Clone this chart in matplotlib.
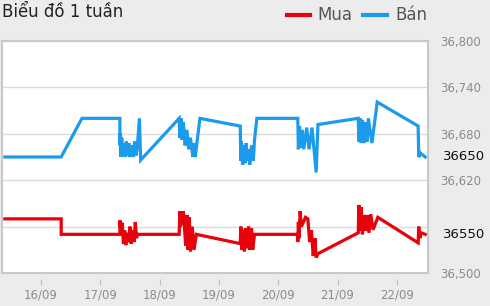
import matplotlib
matplotlib.use("Agg")
import matplotlib.pyplot as plt
from matplotlib.lines import Line2D
from matplotlib.patches import Rectangle

# time in days of September (fractional), prices in VND
ban_t = [15.39, 16.34, 16.69, 17.33, 17.33, 17.34, 17.35, 17.36, 17.38, 17.40, 17.42, 17.44,
         17.46, 17.48, 17.50, 17.52, 17.55, 17.58, 17.60, 17.62, 17.66, 17.68,
         18.33, 18.34, 18.36, 18.38, 18.40, 18.43, 18.46, 18.49, 18.52, 18.56, 18.58, 18.60, 18.68,
         19.36, 19.37, 19.38, 19.40, 19.42, 19.44, 19.46, 19.48, 19.50, 19.52, 19.55, 19.58, 19.60, 19.64,
         20.33, 20.34, 20.36, 20.38, 20.40, 20.43, 20.48, 20.52, 20.57, 20.64, 20.67,
         21.35, 21.36, 21.38, 21.40, 21.42, 21.45, 21.48, 21.50, 21.52, 21.58, 21.67,
         22.36, 22.37, 22.40, 22.48]
ban_v = [36650, 36650, 36700, 36700, 36665, 36681, 36650, 36675, 36652, 36668, 36650, 36670,
         36652, 36668, 36650, 36665, 36650, 36670, 36652, 36660, 36700, 36646,
         36700, 36675, 36700, 36672, 36695, 36665, 36685, 36660, 36675, 36650, 36668, 36650, 36700,
         36690, 36645, 36670, 36640, 36665, 36642, 36668, 36645, 36660, 36640, 36665, 36645, 36672, 36700,
         36700, 36660, 36690, 36662, 36685, 36660, 36688, 36660, 36688, 36630, 36692,
         36700, 36670, 36700, 36668, 36698, 36668, 36695, 36670, 36700, 36668, 36721,
         36690, 36650, 36655, 36650]

mua_t = [15.39, 16.34, 16.34, 17.33, 17.33, 17.35, 17.37, 17.39, 17.41, 17.43, 17.45, 17.48,
         17.50, 17.52, 17.55, 17.57, 17.59, 17.61, 17.63,
         18.33, 18.34, 18.35, 18.36, 18.38, 18.40, 18.44, 18.46, 18.48, 18.50, 18.52, 18.55, 18.58, 18.62,
         19.36, 19.37, 19.39, 19.41, 19.43, 19.45, 19.47, 19.50, 19.52, 19.55, 19.57, 19.60,
         20.33, 20.33, 20.34, 20.35, 20.37, 20.39, 20.42, 20.46, 20.50, 20.53, 20.56, 20.59, 20.62, 20.64, 20.67,
         21.35, 21.36, 21.38, 21.40, 21.42, 21.45, 21.48, 21.50, 21.53, 21.56, 21.60, 21.68,
         22.36, 22.37, 22.39, 22.41, 22.48]
mua_v = [36570, 36570, 36550, 36550, 36568, 36550, 36565, 36538, 36555, 36536, 36552, 36540,
         36560, 36538, 36555, 36540, 36566, 36545, 36550,
         36550, 36580, 36560, 36578, 36562, 36580, 36535, 36575, 36530, 36572, 36528, 36560, 36530, 36550,
         36538, 36560, 36530, 36556, 36528, 36558, 36532, 36560, 36530, 36558, 36530, 36550,
         36550, 36540, 36566, 36545, 36580, 36560, 36565, 36572, 36570, 36540, 36555, 36522, 36545, 36520, 36525,
         36552, 36588, 36555, 36585, 36550, 36575, 36555, 36575, 36552, 36576, 36556, 36572,
         36539, 36560, 36545, 36552, 36550]

day_ticks = [16, 17, 18, 19, 20, 21, 22]
day_labels = ["16/09", "17/09", "18/09", "19/09", "20/09", "21/09", "22/09"]
price_ticks = [36500, 36560, 36620, 36680, 36740, 36800]
price_labels = ["36,500", "", "36,620", "36,680", "36,740", "36,800"]

red = "#e8000b"
blue = "#1c9bec"

fig = plt.figure(figsize=(4.9, 3.06), dpi=100, facecolor="#ececec")
ax = fig.add_axes([2/490, 33/306, 426/490, 232/306])
ax.set_facecolor("white")

ax.plot(ban_t, ban_v, color=blue, lw=2.3, solid_joinstyle="miter")
ax.plot(mua_t, mua_v, color=red, lw=2.3, solid_joinstyle="miter")

ax.set_xlim(15.342, 22.526)
ax.set_ylim(36500, 36800)

for s in ax.spines.values():
    s.set_visible(False)
ax.spines["bottom"].set_position(("outward", 4))
ax.add_patch(Rectangle((0, 0), 1, 1, transform=ax.transAxes, fill=False,
                       ec="#c8c8c8", lw=1.5, clip_on=False, zorder=5))

ax.set_yticks(price_ticks, price_labels)
ax.yaxis.tick_right()
ax.tick_params(axis="y", length=0, pad=9, labelsize=8.5, labelcolor="#8c8c8c")
ax.grid(axis="y", color="#dcdcdc", lw=1)
ax.set_xticks(day_ticks, day_labels)
ax.tick_params(axis="x", length=4, color="#c0c0c0", pad=3, labelsize=8.5, labelcolor="#8c8c8c")

# current price labels
ax.text(1.035, ban_v[-1], str(ban_v[-1]), transform=ax.get_yaxis_transform(),
        va="center", ha="left", fontsize=9.5, color="#111111")
ax.text(1.035, mua_v[-1], str(mua_v[-1]), transform=ax.get_yaxis_transform(),
        va="center", ha="left", fontsize=9.5, color="#111111")

fig.text(2/490, 1 - 12/306, "Biểu đồ 1 tuần", fontsize=12, color="#222222", va="center", ha="left")

# legend
fig.add_artist(Line2D([287/490, 310/490], [1 - 15/306] * 2, color=red, lw=3))
fig.text(317/490, 1 - 15/306, "Mua", fontsize=12, color="#555555", va="center", ha="left")
fig.add_artist(Line2D([363/490, 387/490], [1 - 15/306] * 2, color=blue, lw=3))
fig.text(395/490, 1 - 15/306, "Bán", fontsize=12, color="#555555", va="center", ha="left")

fig.savefig("out.png", dpi=100, facecolor=fig.get_facecolor())
